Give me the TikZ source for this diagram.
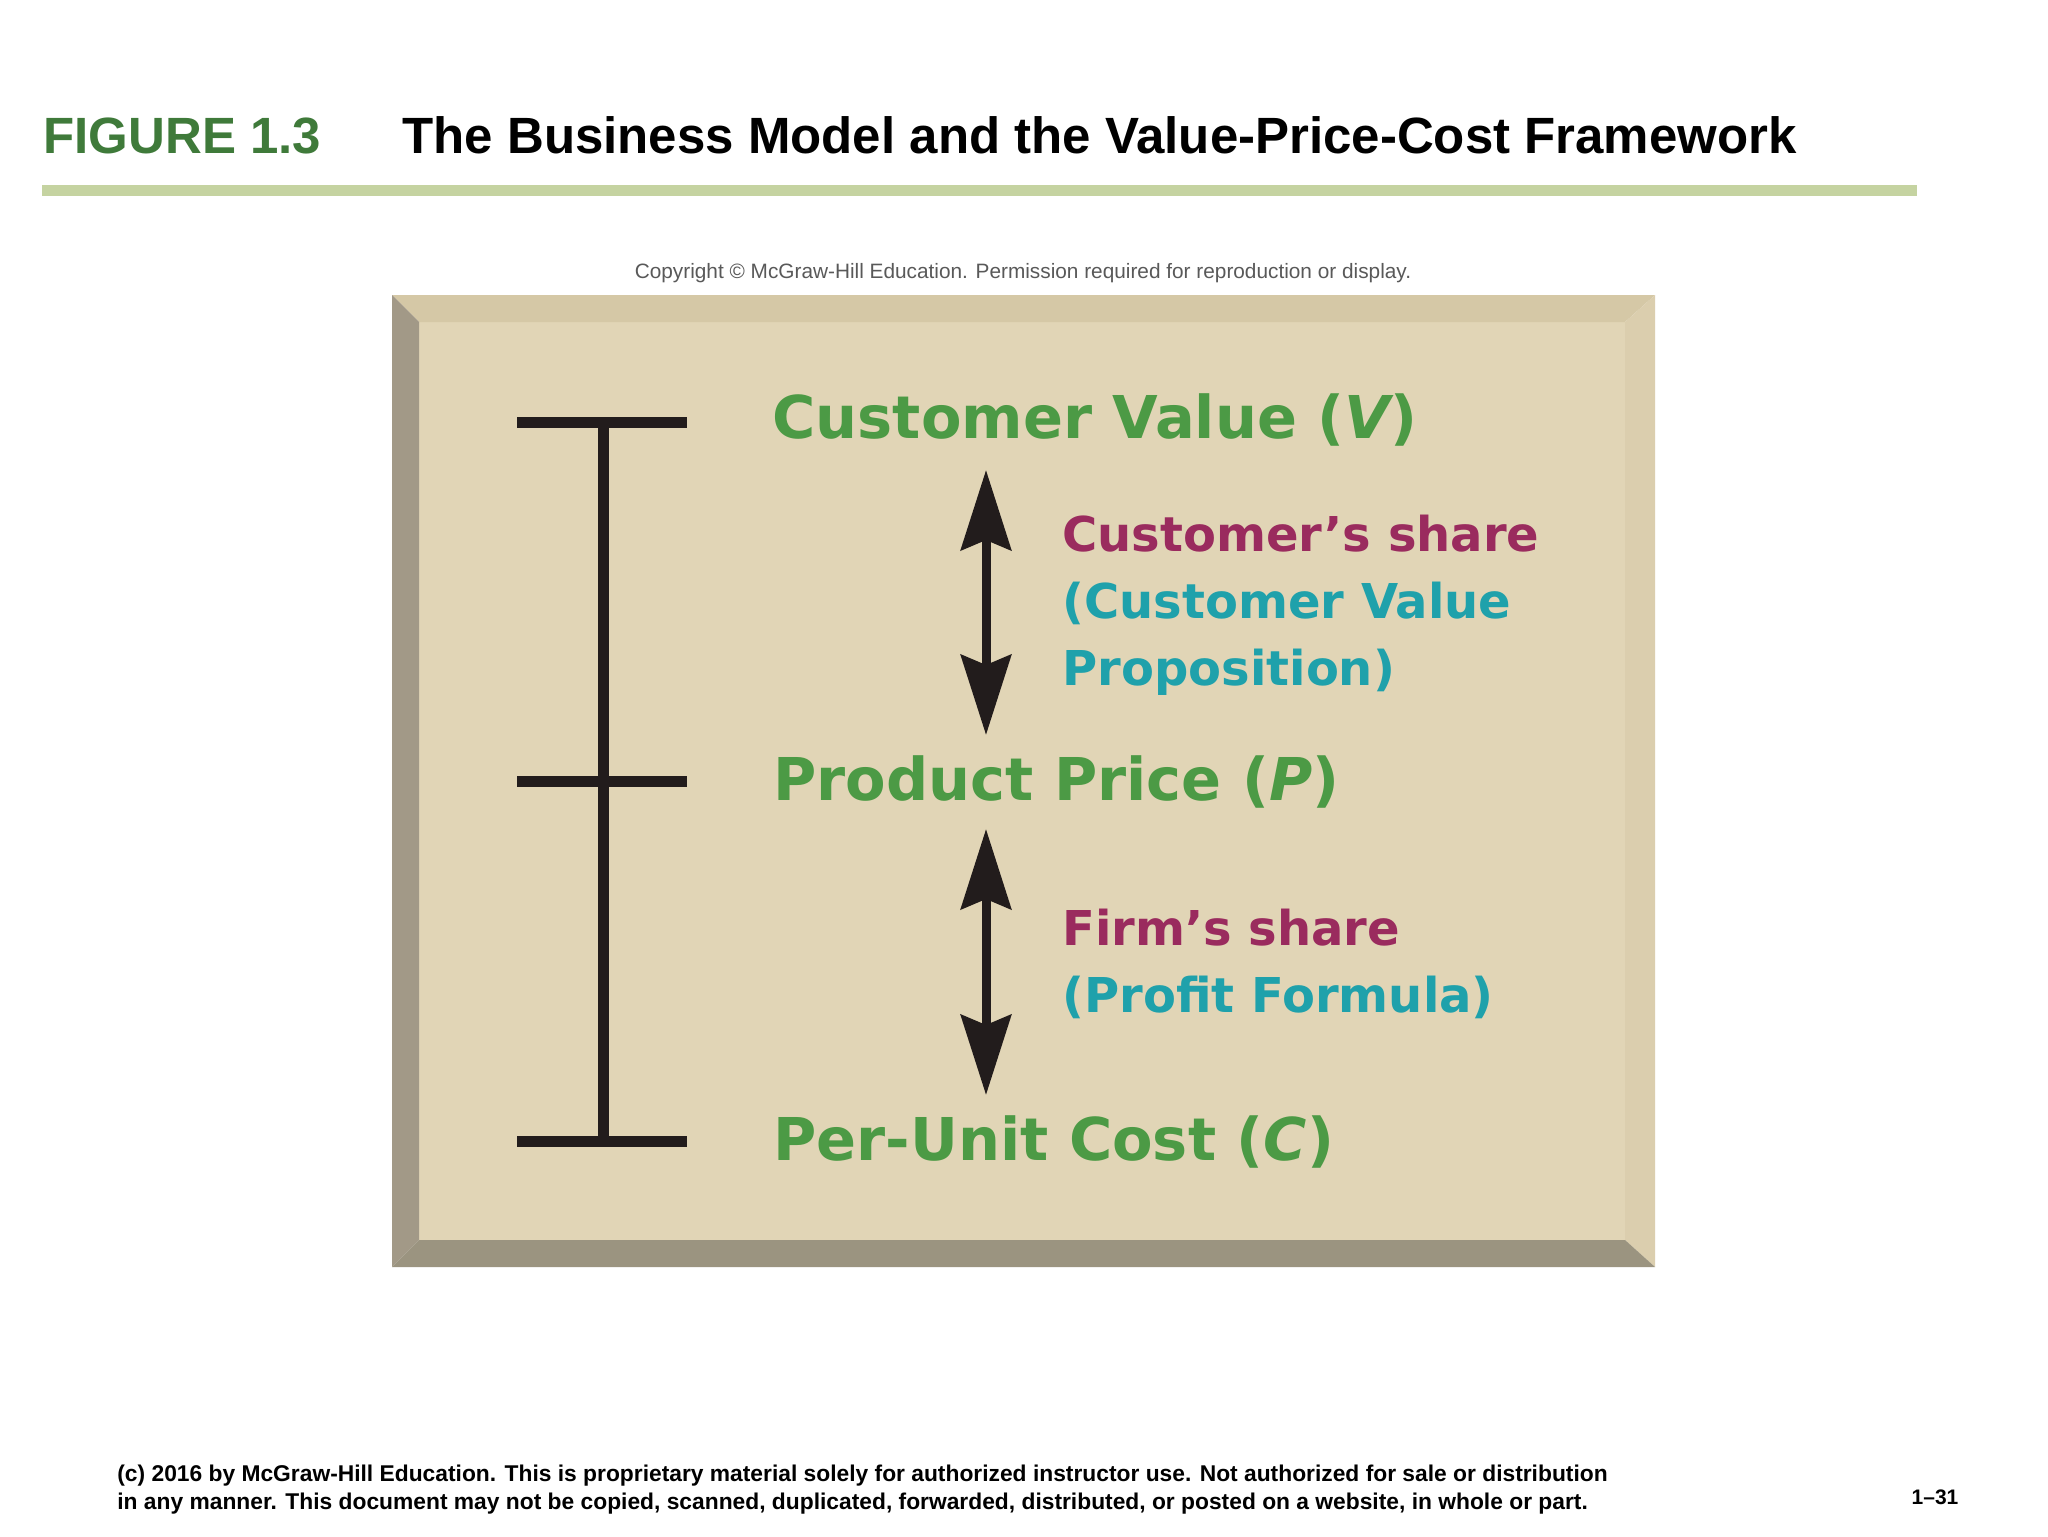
\documentclass[tikz,border=0pt]{standalone}
\usepackage{fontspec}
\usepackage{xcolor}
\setmainfont{Liberation Sans}
\newfontfamily\framefont{DejaVu Sans}
\usetikzlibrary{arrows.meta}

\definecolor{figgreen}{HTML}{3F7A3A}
\definecolor{rulegreen}{HTML}{C5D3A1}
\definecolor{boxface}{HTML}{E1D5B6}
\definecolor{bevtop}{HTML}{D5C8A6}
\definecolor{bevleft}{HTML}{A29987}
\definecolor{bevright}{HTML}{DBCEAE}
\definecolor{bevbottom}{HTML}{9B9480}
\definecolor{levelgreen}{HTML}{4C9A45}
\definecolor{sharered}{HTML}{9A2B5E}
\definecolor{shareteal}{HTML}{1FA1AB}
\definecolor{inkdark}{HTML}{221C1C}

\begin{document}
\begin{tikzpicture}[x=0.5pt,y=-0.5pt,
    level/.style={anchor=base west,inner sep=0pt,text=levelgreen,font=\framefont\bfseries\fontsize{29.5}{30}\selectfont},
    share/.style={anchor=north west,inner sep=0pt,align=left,text=shareteal,font=\framefont\bfseries\fontsize{24}{33.5}\selectfont},
    beam/.style={line width=5.5pt,draw=inkdark},
    split/.style={line width=4.5pt,draw=inkdark,>={Stealth[length=40pt,width=25pt,inset=5pt]},<->}]
    \useasboundingbox[fill=white] (0,0) rectangle (2048,1536);

    % heading
    \node[anchor=base west,inner sep=0pt,text=figgreen,font=\bfseries\fontsize{25.5}{26}\selectfont] (fignum) at (43,153) {FIGURE 1.3};
    \node[anchor=base west,inner sep=0pt,font=\bfseries\fontsize{25.5}{26}\selectfont] (figtitle) at (402,153) {The Business Model and the Value-Price-Cost Framework};
    \fill[rulegreen] (42,185) rectangle (1917,196);
    \node[text=black!65,font=\fontsize{10.4}{11}\selectfont] (copyright) at (1023,273) {Copyright \textcopyright{} McGraw-Hill Education. Permission required for reproduction or display.};

    % bevelled panel
    \fill[boxface] (419,322) rectangle (1625,1240);
    \fill[bevtop] (392,295) -- (1655,295) -- (1625,322) -- (419,322) -- cycle;
    \fill[bevleft] (392,295) -- (419,322) -- (419,1240) -- (392,1267) -- cycle;
    \fill[bevright] (1655,295) -- (1655,1267) -- (1625,1240) -- (1625,322) -- cycle;
    \fill[bevbottom] (392,1267) -- (419,1240) -- (1625,1240) -- (1655,1267) -- cycle;

    % I-beam
    \coordinate (V-l) at (517,422);  \coordinate (V-m) at (603,422);  \coordinate (V-r) at (687,422);
    \coordinate (P-l) at (517,781);  \coordinate (P-m) at (603,781);  \coordinate (P-r) at (687,781);
    \coordinate (C-l) at (517,1141); \coordinate (C-m) at (603,1141); \coordinate (C-r) at (687,1141);
    \draw[beam] (V-l) -- (V-r);
    \draw[beam] (P-l) -- (P-r);
    \draw[beam] (C-l) -- (C-r);
    \draw[beam] (V-m) -- (C-m);

    % levels
    \node[level] (value) at (772,438) {Customer Value ({\itshape V})};
    \node[level] (price) at (773,800) {Product Price ({\itshape P})};
    \node[level] (cost) at (773,1160) {Per-Unit Cost ({\itshape C})};

    % shares
    \coordinate (cust-top) at (986,470);
    \coordinate (cust-bot) at (986,735);
    \coordinate (firm-top) at (986,829);
    \coordinate (firm-bot) at (986,1095);
    \draw[split] (cust-top) -- (cust-bot);
    \draw[split] (firm-top) -- (firm-bot);
    \node[share] (custshare) at (1062,515) {{\color{sharered}Customer’s share}\\(Customer Value\\Proposition)};
    \node[share] (firmshare) at (1062,909) {{\color{sharered}Firm’s share}\\(Profit Formula)};

    % footer
    \node[anchor=north west,inner sep=0pt,align=left,font=\bfseries\fontsize{11.4}{13.8}\selectfont] (notice) at (117,1465) {(c) 2016 by McGraw-Hill Education. This is proprietary material solely for authorized instructor use. Not authorized for sale or distribution\\in any manner. This document may not be copied, scanned, duplicated, forwarded, distributed, or posted on a website, in whole or part.};
    \node[font=\bfseries\fontsize{10.5}{12}\selectfont] (pageno) at (1935,1497) {1--31};
\end{tikzpicture}
\end{document}
